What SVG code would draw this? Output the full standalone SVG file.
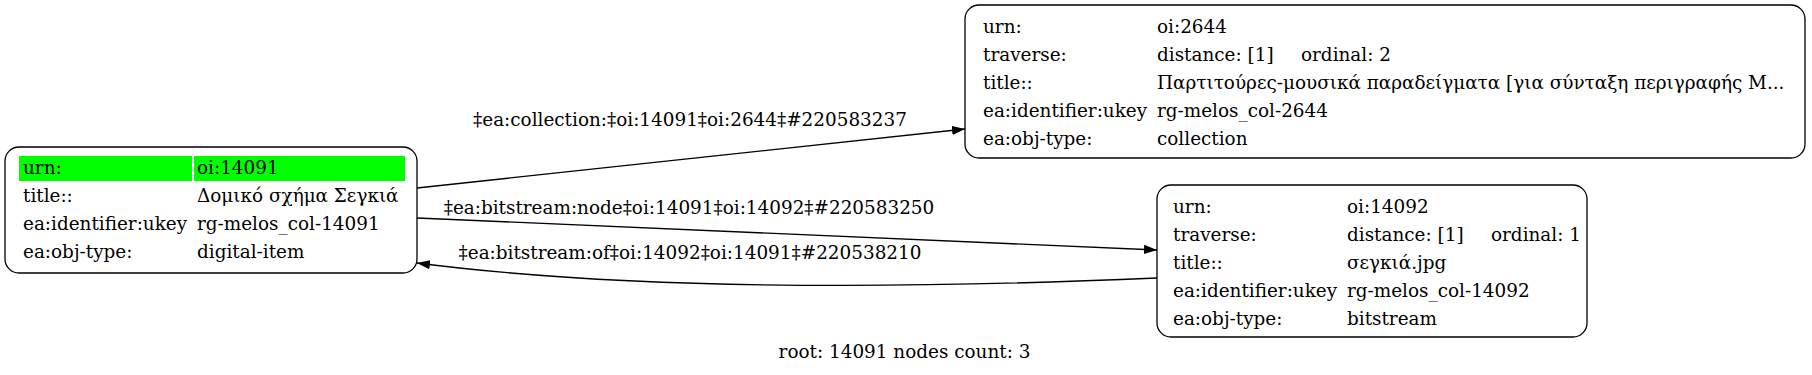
<svg xmlns="http://www.w3.org/2000/svg" width="1812" height="375" viewBox="0 0 1812 375">
<style>
text{font-family:"DejaVu Serif","Liberation Serif",serif;font-size:18.4px;fill:#000;white-space:pre}
.box{fill:#fff;stroke:#000;stroke-width:1.3}
.edge{fill:none;stroke:#000;stroke-width:1.3}
.hl{fill:#00ff00}
.lbl{text-anchor:middle}
</style>
<defs>
<marker id="arr" viewBox="0 0 13 10" refX="13" refY="5" markerWidth="13" markerHeight="10" markerUnits="userSpaceOnUse" orient="auto">
<path d="M0,0.4 L13,5 L0,9.6 Z" fill="#000"/>
</marker>
</defs>
<rect width="1812" height="375" fill="#fff"/>
<g id="connectors">
<path class="edge" d="M417,188 L965,129" marker-end="url(#arr)"/>
<text class="lbl" x="690" y="126">‡ea:collection:‡oi:14091‡oi:2644‡#220583237</text>
<path class="edge" d="M417,218 L1157,250" marker-end="url(#arr)"/>
<text class="lbl" x="689" y="214">‡ea:bitstream:node‡oi:14091‡oi:14092‡#220583250</text>
<path class="edge" d="M1157,278 C950,287 650,293 417,263" marker-end="url(#arr)"/>
<text class="lbl" x="690" y="259">‡ea:bitstream:of‡oi:14092‡oi:14091‡#220538210</text>
</g>
<g id="node-14091">
<rect class="box" x="5" y="147" width="412" height="126" rx="14"/>
<rect class="hl" x="19" y="156" width="173" height="25"/>
<rect class="hl" x="194" y="156" width="211" height="25"/>
<text x="23" y="173.5">urn:</text><text x="197" y="173.5">oi:14091</text>
<text x="23" y="202">title::</text><text x="197" y="202">Δομικό σχήμα Σεγκιά</text>
<text x="23" y="230">ea:identifier:ukey</text><text x="197" y="230">rg-melos_col-14091</text>
<text x="23" y="258">ea:obj-type:</text><text x="197" y="258">digital-item</text>
</g>
<g id="node-2644">
<rect class="box" x="965" y="5" width="840" height="153" rx="14"/>
<text x="983" y="33">urn:</text><text x="1157" y="33">oi:2644</text>
<text x="983" y="61">traverse:</text><text x="1157" y="61">distance: [1]</text><text x="1301" y="61">ordinal: 2</text>
<text x="983" y="89">title::</text><text x="1157" y="89">Παρτιτούρες-μουσικά παραδείγματα [για σύνταξη περιγραφής Μ...</text>
<text x="983" y="117">ea:identifier:ukey</text><text x="1157" y="117">rg-melos_col-2644</text>
<text x="983" y="145">ea:obj-type:</text><text x="1157" y="145">collection</text>
</g>
<g id="node-14092">
<rect class="box" x="1157" y="185" width="430" height="152" rx="14"/>
<text x="1173" y="213">urn:</text><text x="1347" y="213">oi:14092</text>
<text x="1173" y="241">traverse:</text><text x="1347" y="241">distance: [1]</text><text x="1491" y="241">ordinal: 1</text>
<text x="1173" y="269">title::</text><text x="1347" y="269">σεγκιά.jpg</text>
<text x="1173" y="297">ea:identifier:ukey</text><text x="1347" y="297">rg-melos_col-14092</text>
<text x="1173" y="325">ea:obj-type:</text><text x="1347" y="325">bitstream</text>
</g>
<text class="lbl" x="904.5" y="358">root: 14091 nodes count: 3</text>
</svg>
